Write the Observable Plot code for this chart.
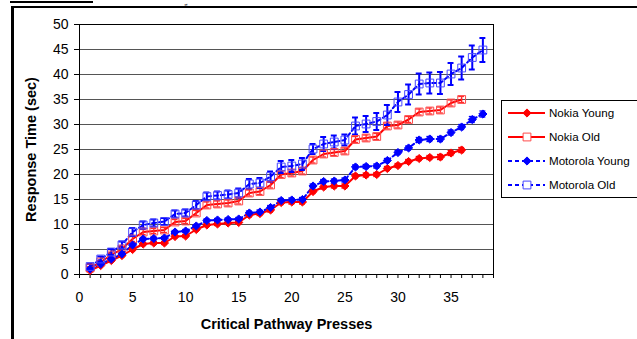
<!DOCTYPE html>
<html><head><meta charset="utf-8">
<script src="https://cdn.jsdelivr.net/npm/d3@7"></script>
<script src="https://cdn.jsdelivr.net/npm/@observablehq/plot@0.6"></script>
<style>
body{margin:0;background:#fff;}
#wrap{position:relative;width:637px;height:339px;overflow:hidden;background:#fff;font-family:'Liberation Sans',Arial,sans-serif;}
#chart{position:absolute;left:0;top:0;}
.rule{position:absolute;background:#000;}
</style></head><body>
<div id="wrap">
  <div class="rule" style="left:10px;top:1px;width:83px;height:2px"></div>
  <div class="rule" style="left:12px;top:6px;width:625px;height:2px"></div>
  <div class="rule" style="left:11px;top:6px;width:3px;height:333px"></div>
  <div id="chart"></div>
</div>
<script>
// ---- data ----
const presses = [1,2,3,4,5,6,7,8,9,10,11,12,13,14,15,16,17,18,19,20,21,22,23,24,25,26,27,28,29,30,31,32,33,34,35,36,37,38];
const seriesNames = ["Nokia Young","Nokia Old","Motorola Young","Motorola Old"];
const nokiaYoung = [0.8,1.8,2.8,3.8,5.0,6.1,6.3,6.3,7.6,7.7,9.0,9.9,10.1,10.3,10.4,11.9,12.2,12.9,14.4,14.5,14.5,16.6,17.5,17.7,17.7,19.7,19.9,20.0,21.2,21.8,22.6,23.2,23.4,23.5,24.3,24.9];
const nokiaOld   = [1.3,2.5,3.9,5.1,7.1,8.5,8.7,8.9,10.5,10.7,12.3,13.9,14.1,14.3,14.7,16.3,16.6,17.9,20.0,20.3,20.7,22.9,24.1,24.4,24.7,27.0,27.3,27.6,29.7,29.9,31.0,32.5,32.7,32.9,34.3,35.0];
const motoYoung  = [1.1,2.1,3.1,4.1,5.9,7.1,7.2,7.3,8.5,8.7,9.7,10.8,10.9,11.0,11.1,12.3,12.5,13.4,14.8,14.9,15.0,17.7,18.6,18.7,18.9,21.5,21.6,21.7,22.8,24.4,25.3,26.9,27.1,27.1,28.4,29.5,31.0,32.1];
const motoOld    = [1.6,3.1,4.5,5.9,8.5,9.9,10.3,10.6,12.1,12.3,13.9,15.6,15.8,16.0,16.3,18.1,18.3,19.6,21.5,21.7,22.1,25.1,26.1,26.5,26.9,29.7,30.1,30.6,31.9,34.5,36.0,38.1,38.3,38.3,40.1,41.3,43.4,44.9];
const nokiaYoungErr = [0.2,0.2,0.2,0.3,0.3,0.3,0.3,0.3,0.3,0.3,0.3,0.3,0.3,0.3,0.3,0.4,0.4,0.4,0.4,0.4,0.4,0.4,0.4,0.4,0.4,0.4,0.4,0.4,0.4,0.4,0.4,0.4,0.4,0.5,0.5,0.5];
const nokiaOldErr   = [0.3,0.3,0.4,0.4,0.5,0.5,0.5,0.5,0.5,0.5,0.5,0.6,0.6,0.6,0.6,0.6,0.6,0.6,0.6,0.6,0.6,0.6,0.6,0.6,0.6,0.6,0.6,0.6,0.6,0.6,0.6,0.6,0.6,0.6,0.6,0.6];
const motoYoungErr  = [0.2,0.2,0.2,0.3,0.3,0.3,0.3,0.3,0.3,0.3,0.3,0.3,0.3,0.3,0.3,0.4,0.4,0.4,0.4,0.4,0.4,0.4,0.4,0.4,0.4,0.4,0.4,0.4,0.4,0.4,0.4,0.5,0.5,0.5,0.5,0.5,0.6,0.6];
const motoOldErr    = [0.5,0.5,0.6,0.7,0.8,0.7,0.7,0.7,0.7,0.7,0.8,0.8,0.8,0.8,0.9,1.0,1.0,1.0,1.2,1.2,1.2,1.0,1.4,1.3,1.1,1.7,1.6,1.7,2.0,2.0,2.0,2.1,2.1,2.2,2.2,2.3,2.4,2.4];
const xTickLabels = [0,5,10,15,20,25,30,35];
const xMinorTicks = [0,1,2,3,4,5,6,7,8,9,10,11,12,13,14,15,16,17,18,19,20,21,22,23,24,25,26,27,28,29,30,31,32,33,34,35,36,37,38,39];
const yTicks = [0,5,10,15,20,25,30,35,40,45,50];
const yGrid = [5,10,15,20,25,30,35,40,45];
const xTitle = "Critical Pathway Presses";
const yTitle = "Response Time (sec)";
const topFragment = "g";

const values = [nokiaYoung, nokiaOld, motoYoung, motoOld];
const errors = [nokiaYoungErr, nokiaOldErr, motoYoungErr, motoOldErr];
const styles = {
  "Nokia Young":    {stroke:"#ff0000", dash:null,  symbol:"diamond2", fill:"#ff0000", mstroke:"#ff0000", r:3.7, capStroke:"#ff0000"},
  "Nokia Old":      {stroke:"#ff0000", dash:null,  symbol:"square",   fill:"none",    mstroke:"#ff4a4a", r:4.4, capStroke:"#ff2a2a"},
  "Motorola Young": {stroke:"#0000ff", dash:"4,3", symbol:"diamond2", fill:"#0000ff", mstroke:"#0000ff", r:3.7, capStroke:"#0000ff"},
  "Motorola Old":   {stroke:"#0000ff", dash:"4,3", symbol:"square",   fill:"none",    mstroke:"#4646ff", r:4.4, capStroke:"#0000ff"}
};

const rows = [];
seriesNames.forEach((s, i) => {
  values[i].forEach((v, j) => rows.push({series: s, x: presses[j], y: v, e: errors[i][j]}));
});

const seriesMarks = [];
for (const s of seriesNames) {
  const st = styles[s];
  seriesMarks.push(Plot.line(rows.filter(d => d.series === s), {x:"x", y:"y", stroke:st.stroke, strokeWidth:2, strokeDasharray:st.dash}));
}
for (const s of seriesNames) {
  const st = styles[s];
  const data = rows.filter(d => d.series === s);
  const w = s === "Motorola Old" ? 2 : 1.3;
  seriesMarks.push(Plot.ruleX(data, {x:"x", y1:d => d.y - d.e, y2:d => d.y + d.e, stroke:st.capStroke, strokeWidth:w}));
  seriesMarks.push(Plot.ruleY(data, {y:d => d.y + d.e, x1:d => d.x - 0.28, x2:d => d.x + 0.28, stroke:st.capStroke, strokeWidth:w}));
  seriesMarks.push(Plot.ruleY(data, {y:d => d.y - d.e, x1:d => d.x - 0.28, x2:d => d.x + 0.28, stroke:st.capStroke, strokeWidth:w}));
}
for (const s of seriesNames) {
  const st = styles[s];
  seriesMarks.push(Plot.dot(rows.filter(d => d.series === s), {x:"x", y:"y", symbol:() => st.symbol, r:st.r, fill:st.fill, stroke:st.mstroke, strokeWidth:1}));
}

const chart = Plot.plot({
  width:637, height:339,
  marginLeft:79, marginRight:144, marginTop:24, marginBottom:65,
  x:{domain:[0,39]},
  y:{domain:[0,50]},
  symbol:{type:"identity"},
  style:{fontFamily:"'Liberation Sans', Arial, sans-serif", fontSize:"14px", background:"transparent", color:"#000", overflow:"visible"},
  marks:[
    Plot.gridY(yGrid, {stroke:"#555", strokeOpacity:1, strokeWidth:1}),
    Plot.axisY(yTicks, {tickSize:5, tickPadding:6, label:null, fontSize:14}),
    Plot.axisX(xMinorTicks, {tickSize:4, tickFormat:() => "", label:null}),
    Plot.axisX(xTickLabels, {tickSize:0, tickPadding:18, label:null, fontSize:14, lineAnchor:"top"}),
    Plot.frame({stroke:"#000", strokeWidth:1}),
    ...seriesMarks,
    Plot.text([xTitle], {frameAnchor:"bottom", dy:54, fontWeight:"bold", fontSize:14.5, fill:"#000"}),
    Plot.text([yTitle], {frameAnchor:"left", dx:-48, rotate:-90, textAnchor:"middle", fontWeight:"bold", fontSize:14.5, fill:"#000"})
  ]
});
document.getElementById("chart").appendChild(chart);

const svg = d3.select(chart);
// small text fragment at the very top of the page
svg.append("text").attr("x",186).attr("y",6.5).attr("text-anchor","middle")
  .attr("font-family","'Liberation Serif','Times New Roman',serif").attr("font-size",7).attr("fill","#000").text(topFragment);

// legend
const lg = svg.append("g").attr("class","legend").attr("text-anchor","start");
lg.append("rect").attr("x",501.5).attr("y",100.5).attr("width",160).attr("height",97)
  .attr("fill","#fff").attr("stroke","#000").attr("stroke-width",1);
seriesNames.forEach((s, i) => {
  const st = styles[s];
  const cy = 113 + i * 24;
  const g = lg.append("g");
  g.append("line").attr("x1",508).attr("x2",545).attr("y1",cy).attr("y2",cy)
    .attr("stroke",st.stroke).attr("stroke-width",2).attr("stroke-dasharray",st.dash);
  const sym = st.symbol === "square" ? d3.symbolSquare : d3.symbolDiamond2;
  g.append("path").attr("d", d3.symbol(sym, Math.PI * st.r * st.r)())
    .attr("transform",`translate(527,${cy})`)
    .attr("fill", st.fill === "none" ? "#fff" : st.fill).attr("stroke", st.mstroke).attr("stroke-width",1);
  g.append("text").attr("x",549).attr("y",cy).attr("dy","0.35em").attr("text-anchor","start")
    .attr("font-size",11.6).attr("fill","#000").text(s);
});
</script>
</body></html>
